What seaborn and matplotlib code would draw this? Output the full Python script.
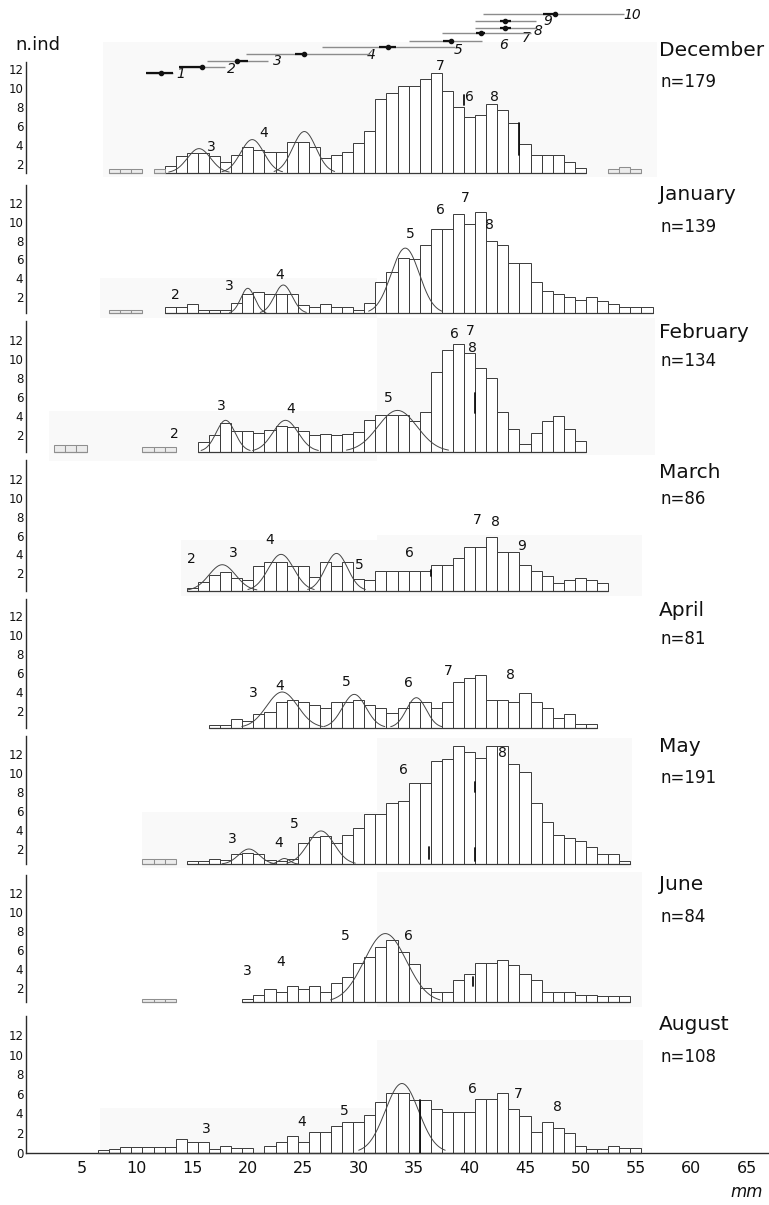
import numpy as np
import pandas as pd
import matplotlib
matplotlib.use("Agg")
import matplotlib.pyplot as plt
from matplotlib.patches import Rectangle
import seaborn as sns

sns.set_theme(style="white")
plt.rcParams["font.family"] = ["DejaVu Sans"]

# ---------------------------------------------------------------- data
months = ["December", "January", "February", "March", "April", "May", "June", "August"]
n_total = [179, 139, 134, 86, 81, 191, 84, 108]

# length-frequency counts, 1 mm classes centred on whole millimetres
dec_first = 13
dec_counts = [1.8, 2.9, 3.2, 3.2, 2.9, 2.2, 3.0, 3.8, 3.55, 3.3, 3.3, 4.4, 4.4, 3.8, 2.7,
              3.0, 3.3, 4.2, 5.5, 8.9, 9.5, 10.2, 10.2, 11.0, 11.6, 9.7, 8.0, 7.0, 7.2,
              8.3, 7.7, 6.3, 4.1, 3.0, 3.0, 3.0, 2.2, 1.6]
jan_first = 13
jan_counts = [1.0, 1.0, 1.3, 0.66, 0.66, 0.66, 1.37, 2.35, 2.6, 2.35, 2.35, 2.35, 1.2, 0.95,
              1.3, 1.0, 1.0, 0.66, 1.37, 3.65, 4.7, 6.2, 6.0, 7.5, 9.2, 9.2, 10.8, 9.8,
              11.05, 7.9, 7.5, 5.65, 5.65, 3.65, 2.7, 2.35, 2.0, 1.7, 2.0, 1.65, 1.3, 1.0,
              1.0, 1.0]
feb_first = 16
feb_counts = [1.2, 1.9, 3.2, 2.4, 2.4, 2.2, 2.5, 2.9, 2.8, 2.4, 2.0, 2.1, 2.0, 2.1, 2.3,
              3.5, 4.1, 4.1, 4.1, 3.4, 4.4, 8.6, 10.9, 11.6, 10.6, 9.0, 8.0, 4.4, 2.6,
              1.0, 2.2, 3.4, 4.0, 2.6, 1.3]
mar_first = 15
mar_counts = [0.4, 1.1, 1.8, 2.1, 1.5, 1.3, 2.8, 3.2, 3.2, 2.8, 2.8, 1.6, 3.2, 2.8, 3.2,
              1.4, 1.3, 2.2, 2.2, 2.2, 2.2, 2.2, 2.9, 2.9, 3.6, 4.8, 4.8, 5.8, 4.2, 4.2,
              2.9, 2.2, 1.7, 1.0, 1.3, 1.5, 1.3, 1.0]
apr_first = 17
apr_counts = [0.53, 0.53, 1.2, 1.0, 1.65, 1.9, 2.9, 3.2, 2.9, 2.6, 2.3, 2.9, 2.9, 3.2, 2.6,
              2.3, 1.75, 2.3, 2.9, 2.9, 2.3, 2.9, 5.1, 5.5, 5.8, 3.2, 3.2, 2.9, 3.9, 2.9,
              2.3, 1.3, 1.65, 0.65, 0.65]
may_first = 15
may_counts = [0.7, 0.7, 0.95, 0.8, 1.45, 1.55, 1.45, 0.85, 0.7, 1.0, 2.6, 3.3, 3.4, 2.6,
              3.5, 4.2, 5.7, 5.7, 6.8, 7.1, 9.0, 9.0, 11.3, 11.5, 12.8, 12.2, 11.6, 12.8,
              12.8, 11.0, 10.1, 6.8, 4.8, 3.5, 3.2, 2.8, 2.2, 1.5, 1.5, 0.7]
jun_first = 20
jun_counts = [0.83, 1.2, 1.9, 1.55, 2.2, 1.9, 2.2, 1.55, 2.5, 3.1, 4.65, 5.3, 6.35, 7.05,
              5.8, 4.5, 2.0, 1.55, 1.55, 2.8, 3.5, 4.65, 4.65, 5.0, 4.4, 3.5, 2.8, 1.55,
              1.55, 1.55, 1.2, 1.2, 1.1, 1.1, 1.1]
aug_first = 7
aug_counts = [0.3, 0.35, 0.55, 0.55, 0.55, 0.55, 0.55, 1.4, 1.1, 1.1, 0.34, 0.68, 0.45,
              0.45, 0.0, 0.68, 1.1, 1.7, 1.1, 2.1, 2.1, 2.7, 3.15, 3.15, 3.85, 5.2, 6.05,
              6.05, 5.4, 5.4, 4.4, 4.1, 4.1, 4.1, 5.45, 5.45, 6.1, 4.4, 3.75, 2.15, 3.15,
              2.5, 2.05, 0.7, 0.35, 0.35, 0.7, 0.45, 0.45]

# isolated classes printed in grey
dec_extra_mm = [8, 9, 10, 12, 53, 54, 55]
dec_extra_n = [1.55, 1.55, 1.55, 1.5, 1.5, 1.75, 1.5]
jan_extra_mm = [8, 9, 10]
jan_extra_n = [0.66, 0.66, 0.66]
feb_extra_mm = [3, 4, 5, 11, 12, 13]
feb_extra_n = [0.93, 0.93, 0.93, 0.7, 0.7, 0.7]
may_extra_mm = [11, 12, 13]
may_extra_n = [0.95, 0.95, 0.95]
jun_extra_mm = [11, 12, 13]
jun_extra_n = [0.76, 0.76, 0.76]

# fitted normal components: (mean mm, peak, sd mm)
dec_modes = [(15.6, 3.65, 1.05), (20.4, 4.6, 1.05), (25.1, 5.45, 1.05)]
jan_modes = [(20.0, 2.95, 0.63), (23.2, 3.3, 0.8), (34.2, 7.2, 1.27)]
feb_modes = [(18.0, 3.5, 0.85), (23.4, 3.5, 1.14), (33.5, 4.55, 1.77)]
mar_modes = [(17.7, 2.9, 1.2), (23.0, 4.0, 1.15), (28.0, 4.1, 1.0)]
apr_modes = [(23.1, 4.0, 1.4), (29.6, 3.75, 1.06), (35.2, 3.4, 0.89)]
may_modes = [(20.1, 2.0, 0.93), (23.3, 1.0, 0.5), (26.6, 3.9, 1.19)]
jun_modes = [(32.4, 7.75, 1.9)]
aug_modes = [(33.9, 7.05, 1.5)]

# cohort numbers written on the histograms
dec_tags = [("3", 16.7, 3.8), ("4", 21.4, 5.3), ("7", 37.4, 12.4), ("6", 40.0, 9.1), ("8", 42.2, 9.1)]
jan_tags = [("2", 13.5, 2.25), ("3", 18.3, 3.2), ("4", 22.9, 4.4), ("5", 34.7, 8.7),
            ("6", 37.4, 11.2), ("7", 39.6, 12.5), ("8", 41.8, 9.6)]
feb_tags = [("2", 13.4, 2.0), ("3", 17.6, 5.0), ("4", 23.9, 4.65), ("5", 32.7, 5.85),
            ("6", 38.6, 12.6), ("7", 40.1, 13.0), ("8", 40.3, 11.2)]
mar_tags = [("2", 14.9, 3.5), ("3", 18.7, 4.1), ("4", 22.0, 5.5), ("5", 30.1, 2.9),
            ("6", 34.6, 4.1), ("7", 40.7, 7.65), ("8", 42.3, 7.45), ("9", 44.7, 4.9)]
apr_tags = [("3", 20.5, 3.85), ("4", 22.85, 4.65), ("5", 28.9, 5.1), ("6", 34.5, 4.9),
            ("7", 38.1, 6.2), ("8", 43.7, 5.8)]
may_tags = [("3", 18.6, 3.1), ("4", 22.8, 2.6), ("5", 24.2, 4.6), ("6", 34.0, 10.3), ("8", 43.0, 12.1)]
jun_tags = [("3", 20.0, 3.8), ("4", 23.0, 4.7), ("5", 28.8, 7.5), ("6", 34.5, 7.5)]
aug_tags = [("3", 16.3, 2.45), ("4", 24.9, 3.15), ("5", 28.7, 4.2), ("6", 40.25, 6.45),
            ("7", 44.4, 6.0), ("8", 47.9, 4.7)]

# short vertical marks inside the histograms: (mm, from, to)
dec_marks = [(39.5, 8.2, 9.3), (44.5, 3.0, 6.3)]
feb_marks = [(40.5, 4.3, 6.4)]
mar_marks = [(36.5, 1.65, 2.35)]
may_marks = [(36.3, 1.0, 2.2), (40.5, 8.0, 9.1), (40.5, 0.7, 2.1)]
jun_marks = [(40.3, 2.2, 3.1)]
aug_marks = [(35.5, 0.0, 5.4)]

# cohort growth lines above the December histogram
cohort_id = ["1", "2", "3", "4", "5", "6", "7", "8", "9", "10"]
cohort_from = [10.8, 13.8, 16.3, 19.8, 26.7, 34.5, 37.5, 40.5, 40.5, 41.2]
cohort_to = [13.3, 17.9, 21.8, 31.0, 38.7, 41.1, 45.5, 46.0, 46.0, 53.9]
cohort_mean = [12.2, 15.9, 19.0, 25.1, 32.6, 38.3, 41.0, 43.2, 43.2, 47.7]
cohort_core_from = [10.8, 13.8, 19.0, 24.3, 31.8, 37.6, 40.6, 42.7, 42.7, 46.6]
cohort_core_to = [13.3, 15.9, 20.0, 25.1, 33.4, 38.3, 41.4, 43.7, 43.7, 47.7]
cohort_level = [11.6, 12.2, 12.9, 13.65, 14.3, 15.0, 15.8, 16.4, 17.1, 17.8]
cohort_tag_x = [14.0, 18.5, 22.7, 31.1, 39.0, 43.1, 45.1, 46.2, 47.1, 54.7]
cohort_tag_y = [11.5, 12.0, 12.85, 13.55, 14.05, 14.6, 15.3, 16.0, 17.1, 17.7]

xtick_mm = [5, 10, 15, 20, 25, 30, 35, 40, 45, 50, 55, 60, 65]

# ---------------------------------------------------------------- layout (pixels)
W, H = 769, 1205
AX_LEFT, AX_RIGHT = 26, 769
X_MAX = 67.0
panel_y12 = [69.3, 202.7, 340.0, 479.0, 616.0, 754.0, 893.5, 1035.0]   # pixel row of the "12" tick
panel_ppu = [9.5, 9.46, 9.45, 9.42, 9.5, 9.5, 9.43, 9.8]               # pixels per unit
panel_lo = [1.1, 0.3, 0.2, 0.14, 0.24, 0.39, 0.47, 0.0]
panel_hi = [12.8, 13.9, 14.0, 14.0, 13.8, 13.9, 13.95, 13.9]
month_y = [51, 195, 332, 473, 611, 746, 885, 1025]
count_y = [82, 227, 361, 499, 639, 778, 917, 1057]

# pale paste-up panels behind the histograms: (x0, x1, y0, y1) in pixels
paper_boxes = [(103, 657, 42, 177), (100, 377, 278, 318), (49, 377, 411, 461),
               (377, 655, 318, 455), (181, 377, 540, 596), (377, 642, 535, 596),
               (142, 377, 812, 868), (377, 632, 738, 868), (377, 642, 872, 1007),
               (100, 377, 1108, 1152), (377, 643, 1040, 1152)]

panels = [
    (dec_first, dec_counts, dec_extra_mm, dec_extra_n, dec_modes, dec_tags, dec_marks),
    (jan_first, jan_counts, jan_extra_mm, jan_extra_n, jan_modes, jan_tags, []),
    (feb_first, feb_counts, feb_extra_mm, feb_extra_n, feb_modes, feb_tags, feb_marks),
    (mar_first, mar_counts, [], [], mar_modes, mar_tags, mar_marks),
    (apr_first, apr_counts, [], [], apr_modes, apr_tags, []),
    (may_first, may_counts, may_extra_mm, may_extra_n, may_modes, may_tags, may_marks),
    (jun_first, jun_counts, jun_extra_mm, jun_extra_n, jun_modes, jun_tags, jun_marks),
    (aug_first, aug_counts, [], [], aug_modes, aug_tags, aug_marks),
]

INK = "#2b2b2b"
fig = plt.figure(figsize=(W / 100, H / 100), dpi=100)
fig.patch.set_facecolor("white")

# background layer in pixel coordinates, below every histogram panel
bg = fig.add_axes([0, 0, 1, 1], zorder=-5)
bg.set_xlim(0, W)
bg.set_ylim(H, 0)
bg.axis("off")
for x0, x1, y0, y1 in paper_boxes:
    bg.add_patch(Rectangle((x0, y0), x1 - x0, y1 - y0, facecolor="#f9f9f9", edgecolor="none"))

for i, (first, counts, ex_mm, ex_n, modes, tags, marks) in enumerate(panels):
    lo, hi, y12, ppu = panel_lo[i], panel_hi[i], panel_y12[i], panel_ppu[i]
    bot_px = y12 + (12 - lo) * ppu
    top_px = y12 - (hi - 12) * ppu
    ax = fig.add_axes([AX_LEFT / W, 1 - bot_px / H, (AX_RIGHT - AX_LEFT) / W, (bot_px - top_px) / H],
                      zorder=1)
    ax.set_facecolor("none")

    mm = np.arange(first, first + len(counts))
    df = pd.DataFrame({"mm": mm, "n": counts})
    sns.barplot(data=df, x="mm", y="n", native_scale=True, width=1, color="white",
                saturation=1, edgecolor="#3a3a3a", linewidth=0.7, errorbar=None, ax=ax, zorder=2)
    ax.plot([mm[0] - 0.5, mm[-1] + 0.5], [lo, lo], color="#3a3a3a", lw=0.9, clip_on=False, zorder=3)

    if ex_mm:
        dfx = pd.DataFrame({"mm": ex_mm, "n": ex_n})
        sns.barplot(data=dfx, x="mm", y="n", native_scale=True, width=1, color="#ececec",
                    saturation=1, edgecolor="#8f8f8f", linewidth=0.75, errorbar=None, ax=ax, zorder=2)
        for a in ex_mm:
            ax.plot([a - 0.5, a + 0.5], [lo, lo], color="#8f8f8f", lw=0.9, clip_on=False, zorder=3)

    for mu, peak, sd in modes:
        xs = np.linspace(mu - 2.6 * sd, mu + 2.6 * sd, 200)
        ys = lo + (peak - lo) * np.exp(-0.5 * ((xs - mu) / sd) ** 2)
        ax.plot(xs, ys, color="#444444", lw=0.7, zorder=4)

    for x0, y0, y1 in marks:
        ax.plot([x0, x0], [max(y0, lo), y1], color="#111111", lw=1.3, zorder=5)

    for t, tx, ty in tags:
        ax.text(tx, ty, t, ha="center", va="center", fontsize=10, color="#111111", zorder=6)

    ax.set_xlim(0, X_MAX)
    ax.set_ylim(lo, hi)
    ax.set_xlabel("")
    ax.set_ylabel("")
    for side in ("top", "right"):
        ax.spines[side].set_visible(False)
    ax.spines["left"].set_color(INK)
    ax.spines["left"].set_linewidth(1.0)
    ax.tick_params(axis="y", direction="in", length=3, width=0.8, color=INK,
                   labelsize=8.5, pad=2, labelcolor="#111111")

    if i == len(panels) - 1:
        ax.set_yticks([0, 2, 4, 6, 8, 10, 12])
        ax.set_xticks(xtick_mm)
        ax.set_xticklabels([str(v) for v in xtick_mm])
        ax.tick_params(axis="x", length=0, labelsize=11.5, pad=6, labelcolor="#111111")
        ax.spines["bottom"].set_color(INK)
        ax.spines["bottom"].set_linewidth(1.0)
    else:
        ax.set_yticks([2, 4, 6, 8, 10, 12])
        ax.set_xticks([])
        ax.spines["bottom"].set_visible(False)

    fig.text(659 / W, 1 - month_y[i] / H, months[i], ha="left", va="center", fontsize=14.5,
             color="#111111")
    fig.text(660 / W, 1 - count_y[i] / H, f"n={n_total[i]}", ha="left", va="center", fontsize=12,
             color="#111111")

    if i == 0:
        ax.hlines(cohort_level, cohort_from, cohort_to, color="#8c8c8c", lw=1.0, clip_on=False, zorder=5)
        ax.hlines(cohort_level, cohort_core_from, cohort_core_to, color="#111111", lw=1.6,
                  clip_on=False, zorder=6)
        ax.scatter(cohort_mean, cohort_level, s=9, color="#111111", clip_on=False, zorder=7)
        for t, tx, ty in zip(cohort_id, cohort_tag_x, cohort_tag_y):
            ax.text(tx, ty, t, ha="center", va="center", fontsize=10, style="italic",
                    color="#111111", clip_on=False)

fig.text(15 / W, 1 - 50 / H, "n.ind", ha="left", va="baseline", fontsize=13, color="#111111")
fig.text(763 / W, 1 - 1197 / H, "mm", ha="right", va="baseline", fontsize=12, style="italic",
         color="#111111")

fig.savefig("out.png", dpi=100, facecolor="white")
